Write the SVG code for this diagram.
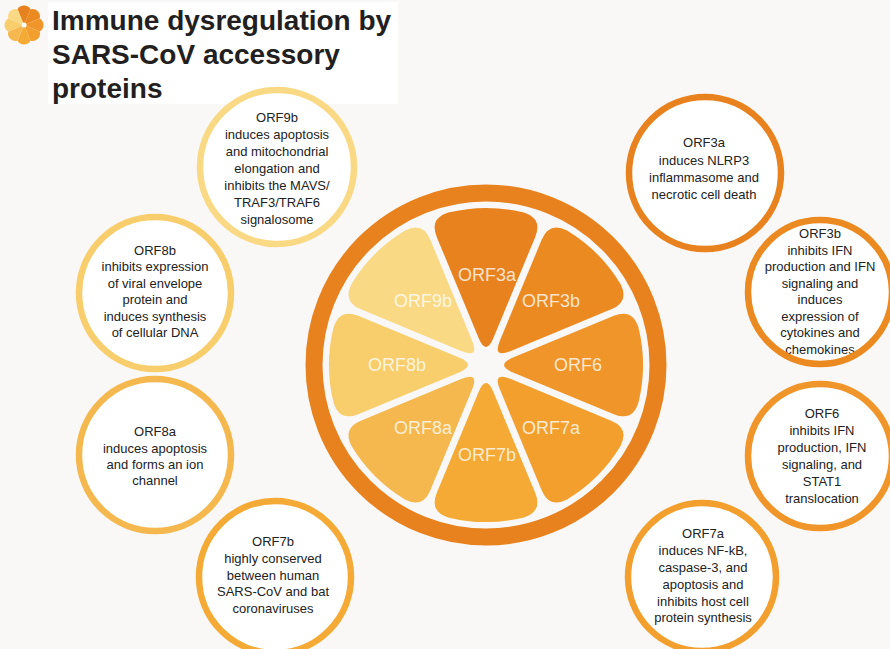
<svg xmlns="http://www.w3.org/2000/svg" width="890" height="649" viewBox="0 0 890 649">
  <style>
    .title { font-family: "Liberation Sans", Arial, sans-serif; font-weight: bold; font-size: 28px; fill: #231f20; }
    .seg-label { font-family: "Liberation Sans", Arial, sans-serif; font-size: 18px; fill: #ffffff; fill-opacity: 0.78; text-anchor: middle; }
    .card-text { font-family: "Liberation Sans", Arial, sans-serif; font-size: 13px; fill: #222222; text-anchor: middle; }
    .card-fill { fill: #ffffff; }
    .card-ring { fill: none; stroke-width: 6.5; }
  </style>
  <defs>
    <!-- one rounded wedge of the orange, pointing up from the hub -->
    <path id="seg" d="M -7.39,-26.98 Q 0,-9.15 7.39,-26.98 L 49.18,-127.87 Q 56.83,-146.35 37.8,-152.4 A 157 157 0 0 0 -37.8,-152.4 Q -56.83,-146.35 -49.18,-127.87 Z"/>
    <!-- scalloped wedge for the small logo -->
    <path id="mini" d="M 0,0 L -6.5,-15.7 A 7.5 7.5 0 0 1 6.5,-15.7 Z"/>
  </defs>

  <rect width="890" height="649" fill="#f9f8f6"/>
  <rect x="48" y="2" width="350" height="102" fill="#ffffff"/>

  <!-- logo -->
  <g id="logo" transform="translate(24,25)">
    <use href="#mini" fill="#e8821e"/>
    <use href="#mini" fill="#ec8a22" transform="rotate(45)"/>
    <use href="#mini" fill="#f0952a" transform="rotate(90)"/>
    <use href="#mini" fill="#f29f2e" transform="rotate(135)"/>
    <use href="#mini" fill="#f4aa34" transform="rotate(180)"/>
    <use href="#mini" fill="#f5b84e" transform="rotate(225)"/>
    <use href="#mini" fill="#f8cd6c" transform="rotate(270)"/>
    <use href="#mini" fill="#fad984" transform="rotate(315)"/>
    <circle r="2.5" fill="#ffffff"/>
  </g>

  <!-- title -->
  <g id="title">
    <text class="title" x="52" y="30">Immune dysregulation by</text>
    <text class="title" x="52" y="64">SARS-CoV accessory</text>
    <text class="title" x="52" y="98">proteins</text>
  </g>

  <!-- central orange -->
  <g id="orange">
    <circle cx="486" cy="365" r="172" fill="none" stroke="#e8821e" stroke-width="17"/>
    <g id="seg-orf3a"><use href="#seg" fill="#e8821e" transform="translate(486,365)"/><text class="seg-label" x="487" y="281">ORF3a</text></g>
    <g id="seg-orf3b"><use href="#seg" fill="#ec8a22" transform="translate(486,365) rotate(45)"/><text class="seg-label" x="551" y="307">ORF3b</text></g>
    <g id="seg-orf6"><use href="#seg" fill="#f0952a" transform="translate(486,365) rotate(90)"/><text class="seg-label" x="578" y="371">ORF6</text></g>
    <g id="seg-orf7a"><use href="#seg" fill="#f29f2e" transform="translate(486,365) rotate(135)"/><text class="seg-label" x="551" y="434">ORF7a</text></g>
    <g id="seg-orf7b"><use href="#seg" fill="#f4aa34" transform="translate(486,365) rotate(180)"/><text class="seg-label" x="487" y="461">ORF7b</text></g>
    <g id="seg-orf8a"><use href="#seg" fill="#f5b84e" transform="translate(486,365) rotate(225)"/><text class="seg-label" x="423" y="434">ORF8a</text></g>
    <g id="seg-orf8b"><use href="#seg" fill="#f8cd6c" transform="translate(486,365) rotate(270)"/><text class="seg-label" x="397" y="371">ORF8b</text></g>
    <g id="seg-orf9b"><use href="#seg" fill="#fad984" transform="translate(486,365) rotate(315)"/><text class="seg-label" x="423" y="307">ORF9b</text></g>
  </g>

  <!-- description cards -->
  <g id="card-orf9b">
    <circle class="card-fill" cx="277" cy="167" r="77"/>
    <text class="card-text" x="277" y="122">ORF9b</text>
    <text class="card-text" x="277" y="139">induces apoptosis</text>
    <text class="card-text" x="277" y="156">and mitochondrial</text>
    <text class="card-text" x="277" y="173">elongation and</text>
    <text class="card-text" x="277" y="190">inhibits the MAVS/</text>
    <text class="card-text" x="277" y="207">TRAF3/TRAF6</text>
    <text class="card-text" x="277" y="224">signalosome</text>
    <circle class="card-ring" cx="277" cy="167" r="77" stroke="#fad984"/>
  </g>

  <g id="card-orf3a">
    <circle class="card-fill" cx="705" cy="173" r="76"/>
    <text class="card-text" x="704" y="147">ORF3a</text>
    <text class="card-text" x="704" y="165">induces NLRP3</text>
    <text class="card-text" x="704" y="182">inflammasome and</text>
    <text class="card-text" x="704" y="199">necrotic cell death</text>
    <circle class="card-ring" cx="705" cy="173" r="76" stroke="#e8821e"/>
  </g>

  <g id="card-orf3b">
    <circle class="card-fill" cx="820" cy="292" r="72"/>
    <text class="card-text" x="820" y="238">ORF3b</text>
    <text class="card-text" x="820" y="254.5">inhibits IFN</text>
    <text class="card-text" x="820" y="271">production and IFN</text>
    <text class="card-text" x="820" y="287.5">signaling and</text>
    <text class="card-text" x="820" y="304">induces</text>
    <text class="card-text" x="820" y="320.5">expression of</text>
    <text class="card-text" x="820" y="337">cytokines and</text>
    <text class="card-text" x="820" y="353.5">chemokines</text>
    <circle class="card-ring" cx="820" cy="292" r="72" stroke="#ec8a22"/>
  </g>

  <g id="card-orf6">
    <circle class="card-fill" cx="820" cy="456" r="72"/>
    <text class="card-text" x="822" y="418">ORF6</text>
    <text class="card-text" x="822" y="435">inhibits IFN</text>
    <text class="card-text" x="822" y="452">production, IFN</text>
    <text class="card-text" x="822" y="469">signaling, and</text>
    <text class="card-text" x="822" y="486">STAT1</text>
    <text class="card-text" x="822" y="503">translocation</text>
    <circle class="card-ring" cx="820" cy="456" r="72" stroke="#f0952a"/>
  </g>

  <g id="card-orf7a">
    <circle class="card-fill" cx="702" cy="577" r="74"/>
    <text class="card-text" x="703" y="538">ORF7a</text>
    <text class="card-text" x="703" y="555">induces NF-kB,</text>
    <text class="card-text" x="703" y="572">caspase-3, and</text>
    <text class="card-text" x="703" y="589">apoptosis and</text>
    <text class="card-text" x="703" y="606">inhibits host cell</text>
    <text class="card-text" x="703" y="622">protein synthesis</text>
    <circle class="card-ring" cx="702" cy="577" r="74" stroke="#f29f2e"/>
  </g>

  <g id="card-orf8b">
    <circle class="card-fill" cx="155" cy="293" r="76"/>
    <text class="card-text" x="155" y="254.5">ORF8b</text>
    <text class="card-text" x="155" y="271">inhibits expression</text>
    <text class="card-text" x="155" y="287.5">of viral envelope</text>
    <text class="card-text" x="155" y="304">protein and</text>
    <text class="card-text" x="155" y="320.5">induces synthesis</text>
    <text class="card-text" x="155" y="337">of cellular DNA</text>
    <circle class="card-ring" cx="155" cy="293" r="76" stroke="#f8cd6c"/>
  </g>

  <g id="card-orf8a">
    <circle class="card-fill" cx="155" cy="455" r="76"/>
    <text class="card-text" x="155" y="436">ORF8a</text>
    <text class="card-text" x="155" y="453">induces apoptosis</text>
    <text class="card-text" x="155" y="469">and forms an ion</text>
    <text class="card-text" x="155" y="485">channel</text>
    <circle class="card-ring" cx="155" cy="455" r="76" stroke="#f5b84e"/>
  </g>

  <g id="card-orf7b">
    <circle class="card-fill" cx="275" cy="577" r="76"/>
    <text class="card-text" x="273" y="546">ORF7b</text>
    <text class="card-text" x="273" y="563">highly conserved</text>
    <text class="card-text" x="273" y="580">between human</text>
    <text class="card-text" x="273" y="596">SARS-CoV and bat</text>
    <text class="card-text" x="273" y="613">coronaviruses</text>
    <circle class="card-ring" cx="275" cy="577" r="76" stroke="#f4aa34"/>
  </g>
</svg>
